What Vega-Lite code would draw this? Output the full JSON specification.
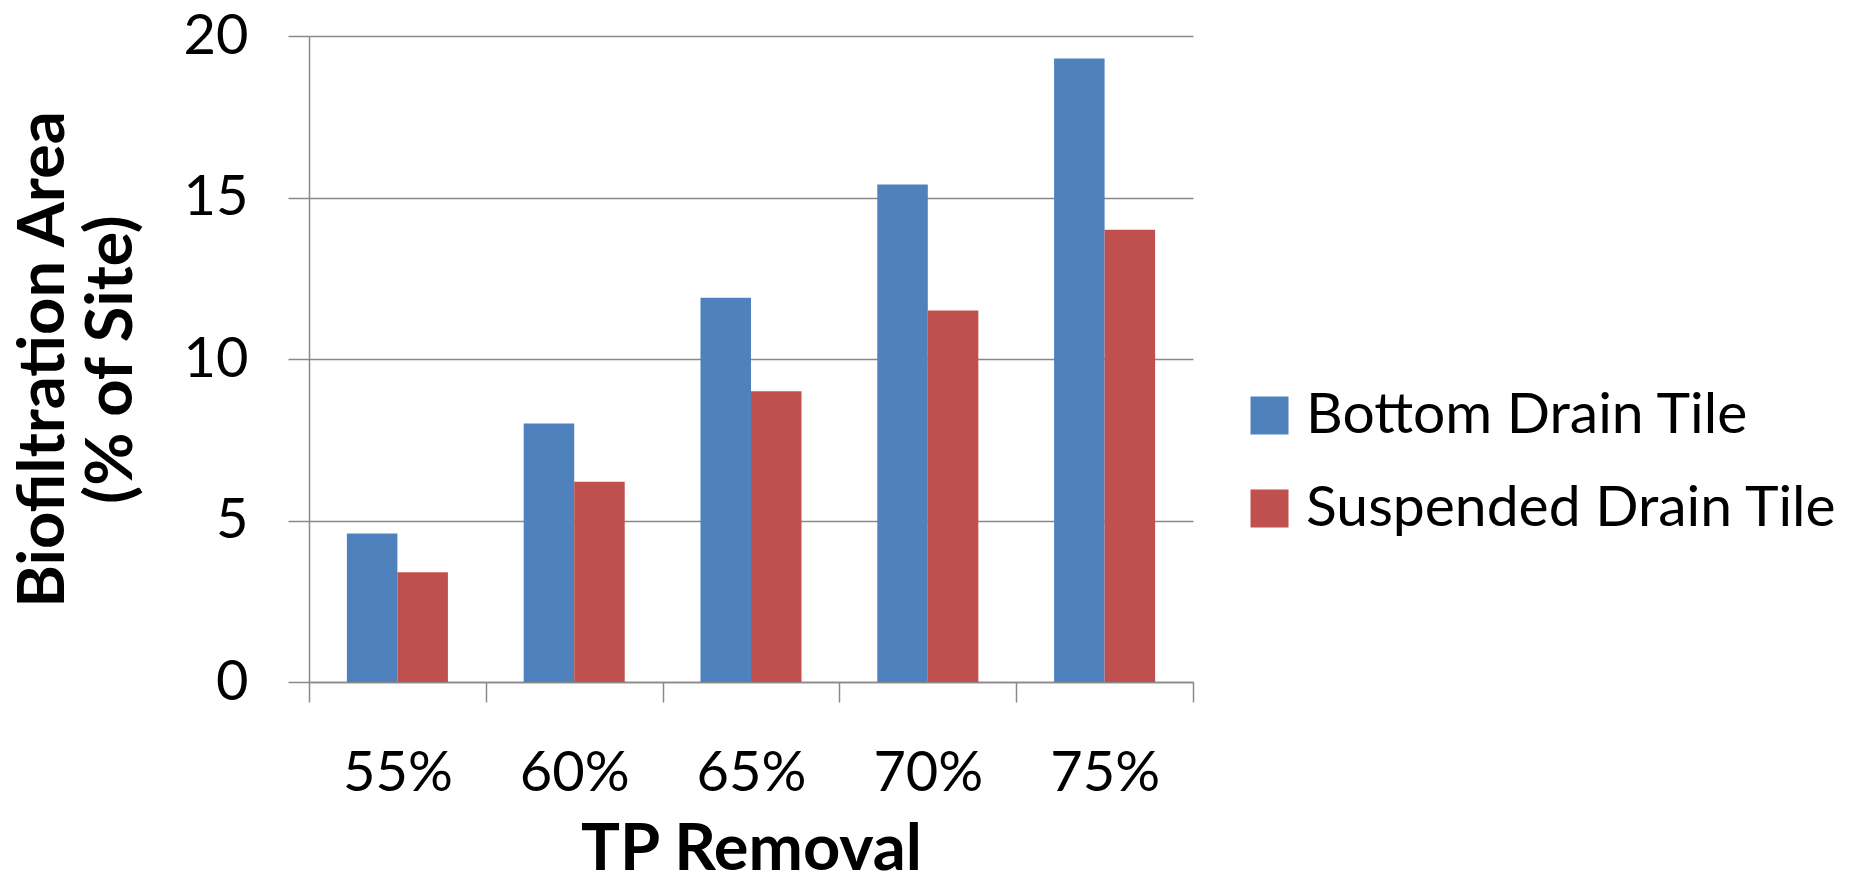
{
  "$schema": "https://vega.github.io/schema/vega-lite/v6.json",
  "width": 884,
  "height": 646,
  "autosize": "none",
  "padding": {"left": 309, "top": 36, "right": 658, "bottom": 203},
  "background": "white",
  "config": {
    "font": "Lato",
    "view": {"stroke": null},
    "axis": {"labelColor": "black", "titleColor": "black"}
  },
  "data": {
    "values": [
      {"removal": "55%", "tile": "Bottom Drain Tile", "area": 4.6},
      {"removal": "55%", "tile": "Suspended Drain Tile", "area": 3.4},
      {"removal": "60%", "tile": "Bottom Drain Tile", "area": 8.0},
      {"removal": "60%", "tile": "Suspended Drain Tile", "area": 6.2},
      {"removal": "65%", "tile": "Bottom Drain Tile", "area": 11.9},
      {"removal": "65%", "tile": "Suspended Drain Tile", "area": 9.0},
      {"removal": "70%", "tile": "Bottom Drain Tile", "area": 15.4},
      {"removal": "70%", "tile": "Suspended Drain Tile", "area": 11.5},
      {"removal": "75%", "tile": "Bottom Drain Tile", "area": 19.3},
      {"removal": "75%", "tile": "Suspended Drain Tile", "area": 14.0}
    ]
  },
  "mark": {"type": "bar"},
  "encoding": {
    "x": {
      "field": "removal",
      "type": "nominal",
      "sort": ["55%", "60%", "65%", "70%", "75%"],
      "scale": {"paddingInner": 0, "paddingOuter": 0},
      "axis": {
        "title": "TP Removal",
        "titleFontSize": 65,
        "titleFontWeight": "bold",
        "titlePadding": 17,
        "labelFontSize": 56,
        "labelAngle": 0,
        "labelPadding": 44,
        "tickBand": "extent",
        "tickSize": 20,
        "tickColor": "#898989",
        "tickWidth": 1.5,
        "domainColor": "#898989",
        "domainWidth": 1.5
      }
    },
    "xOffset": {
      "field": "tile",
      "type": "nominal",
      "sort": ["Bottom Drain Tile", "Suspended Drain Tile"],
      "scale": {"paddingInner": 0, "paddingOuter": 0.75}
    },
    "y": {
      "field": "area",
      "type": "quantitative",
      "scale": {"domain": [0, 20], "nice": false},
      "axis": {
        "title": ["Biofiltration Area", "(% of Site)"],
        "titleFontSize": 65,
        "titleFontWeight": "bold",
        "titleLineHeight": 68,
        "titlePadding": 38,
        "values": [0, 5, 10, 15, 20],
        "labelFontSize": 56,
        "labelPadding": 40,
        "tickSize": 21,
        "tickColor": "#898989",
        "tickWidth": 1.5,
        "domainColor": "#898989",
        "domainWidth": 1.5,
        "grid": true,
        "gridColor": "#898989",
        "gridWidth": 1.5
      }
    },
    "color": {
      "field": "tile",
      "type": "nominal",
      "sort": ["Bottom Drain Tile", "Suspended Drain Tile"],
      "scale": {"range": ["#4F81BD", "#C0504D"]},
      "legend": {
        "title": null,
        "orient": "none",
        "legendX": 932,
        "legendY": 351,
        "symbolType": "square",
        "symbolSize": 1444,
        "symbolStrokeWidth": 0,
        "symbolOpacity": 1,
        "labelFontSize": 57,
        "labelColor": "black",
        "labelOffset": 8,
        "rowPadding": 35,
        "labelLimit": 700
      }
    }
  }
}
